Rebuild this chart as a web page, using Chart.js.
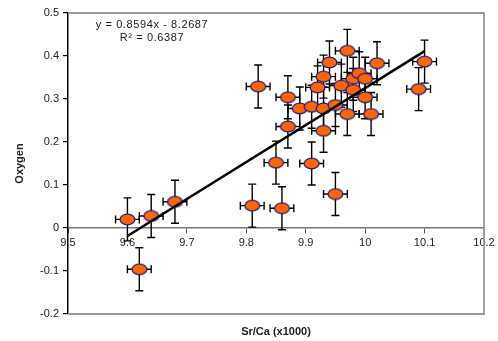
<!DOCTYPE html>
<html>
<head>
<meta charset="utf-8">
<script src="https://cdn.jsdelivr.net/npm/chart.js@4"></script>
<style>
    html, body { margin: 0; padding: 0; background: #fff; }
    #wrap { width: 498px; height: 341px; }
</style>
</head>
<body>
<div id="wrap"><canvas id="chart" width="498" height="341"></canvas></div>
<script>
// data
const srCa = [9.60, 9.64, 9.68, 9.62, 9.81, 9.86, 9.95, 9.85, 9.91, 9.87, 9.93,
    9.82, 9.87, 9.89, 9.91, 9.93, 9.95, 9.97, 10.01, 10.00, 9.92, 9.96,
    9.93, 9.98, 9.99, 10.00, 9.98, 9.94, 9.97, 10.02, 10.10, 10.09];
const oxygen = [0.020, 0.028, 0.061, -0.096, 0.052, 0.046, 0.079, 0.152, 0.150, 0.236, 0.226,
    0.329, 0.304, 0.278, 0.282, 0.278, 0.286, 0.265, 0.265, 0.304, 0.327, 0.331,
    0.352, 0.347, 0.360, 0.347, 0.321, 0.385, 0.412, 0.383, 0.387, 0.323];
const srCaError = 0.02;
const oxygenError = 0.05;

// trend line
const slope = 0.8594;
const intercept = -8.2687;
const rSquared = 0.6387;
const trendX = [9.6, 10.1];

const xTicks = [9.5, 10.2, 0.1];
const yTicks = [-0.2, 0.5, 0.1];

const points = srCa.map((x, i) => ({ x: x, y: oxygen[i] }));
const trendPoints = trendX.map(x => ({ x: x, y: slope * x + intercept }));

Chart.defaults.font.family = 'Liberation Sans, Arial, sans-serif';
Chart.defaults.font.size = 11;
Chart.defaults.color = '#222';

const fmt = (value) => String(Number(value.toFixed(1)));
const frameColor = '#999';

// orange ellipse marker
const marker = document.createElement('canvas');
marker.width = 17;
marker.height = 13;
const mctx = marker.getContext('2d');
mctx.beginPath();
mctx.ellipse(8.5, 6.5, 7.4, 5.4, 0, 0, Math.PI * 2);
mctx.fillStyle = '#ff6600';
mctx.fill();
mctx.lineWidth = 1.2;
mctx.strokeStyle = '#1a1a8a';
mctx.stroke();

//error bars under the markers
const errorBars = {
    id: 'errorBars',
    beforeDatasetsDraw(chart) {
        const ctx = chart.ctx;
        const xs = chart.scales.x;
        const ys = chart.scales.y;
        ctx.save();
        ctx.strokeStyle = '#000';
        ctx.lineWidth = 1.4;
        for (let p of points) {
            const px = xs.getPixelForValue(p.x);
            const py = ys.getPixelForValue(p.y);
            const x1 = xs.getPixelForValue(p.x - srCaError);
            const x2 = xs.getPixelForValue(p.x + srCaError);
            const y1 = ys.getPixelForValue(p.y + oxygenError);
            const y2 = ys.getPixelForValue(p.y - oxygenError);
            ctx.beginPath();
            ctx.moveTo(x1, py); ctx.lineTo(x2, py);
            ctx.moveTo(x1, py - 4); ctx.lineTo(x1, py + 4);
            ctx.moveTo(x2, py - 4); ctx.lineTo(x2, py + 4);
            ctx.moveTo(px, y1); ctx.lineTo(px, y2);
            ctx.moveTo(px - 4, y1); ctx.lineTo(px + 4, y1);
            ctx.moveTo(px - 4, y2); ctx.lineTo(px + 4, y2);
            ctx.stroke();
        }
        ctx.restore();
    }
};

// grey frame + equation text on top
const equation = {
    id: 'equation',
    afterDraw(chart) {
        const a = chart.chartArea;
        const ctx = chart.ctx;
        ctx.save();
        ctx.strokeStyle = frameColor;
        ctx.lineWidth = 1.8;
        ctx.beginPath();
        ctx.moveTo(a.left, a.top);
        ctx.lineTo(a.right, a.top);
        ctx.lineTo(a.right, a.bottom);
        ctx.lineTo(a.left, a.bottom);
        ctx.stroke();

        ctx.fillStyle = '#222';
        ctx.font = '11px Liberation Sans, Arial, sans-serif';
        ctx.textAlign = 'center';
        ctx.textBaseline = 'middle';
        ctx.letterSpacing = '0.6px';
        ctx.fillText('y = ' + slope + 'x - ' + Math.abs(intercept), a.left + 84, a.top + 12);
        ctx.fillText('R\u00b2 = ' + rSquared, a.left + 84, a.top + 25);
        ctx.restore();
    }
};

new Chart(document.getElementById('chart'), {
    type: 'scatter',
    data: {
        datasets: [{
            type: 'line',
            label: 'trend',
            data: trendPoints,
            xAxisID: 'x',
            yAxisID: 'y',
            borderColor: '#000',
            borderWidth: 2.5,
            pointRadius: 0,
            fill: false
        }, {
            label: 'Oxygen',
            data: points,
            xAxisID: 'x',
            yAxisID: 'y',
            pointStyle: marker,
            pointRadius: 7,
            pointHoverRadius: 7
        }]
    },
    options: {
        responsive: false,
        animation: false,
        layout: { padding: { left: 0, top: 13, right: 14, bottom: 0 } },
        plugins: {
            legend: { display: false },
            tooltip: { enabled: false }
        },
        scales: {
            x: {
                type: 'linear',
                position: { y: 0 },
                min: xTicks[0],
                max: xTicks[1],
                ticks: { stepSize: xTicks[2], padding: 3, maxRotation: 0, callback: fmt },
                grid: { drawOnChartArea: false, tickLength: 5, color: '#555', lineWidth: 1 },
                border: { color: '#777', width: 1.5 },
                afterFit: (scale) => { scale.height = 0; }
            },
            xt: {
                type: 'linear',
                position: 'bottom',
                min: xTicks[0],
                max: xTicks[1],
                ticks: { display: false },
                grid: { display: false },
                border: { display: false },
                title: {
                    display: true,
                    text: 'Sr/Ca (x1000)',
                    font: { size: 11, weight: 'bold' },
                    color: '#222',
                    padding: { top: 0, bottom: 2 }
                },
                afterFit: (scale) => { scale.height = 27; }
            },
            y: {
                min: yTicks[0],
                max: yTicks[1],
                ticks: { stepSize: yTicks[2], padding: 4, callback: fmt },
                grid: { drawOnChartArea: false, tickLength: 5, color: '#000', lineWidth: 1.2 },
                border: { color: '#000', width: 1.5 },
                title: {
                    display: true,
                    text: 'Oxygen',
                    font: { size: 11, weight: 'bold' },
                    color: '#222',
                    padding: { top: 13, bottom: 0 }
                },
                afterFit: (scale) => { scale.width = 68; }
            }
        }
    },
    plugins: [errorBars, equation]
});
</script>
</body>
</html>
